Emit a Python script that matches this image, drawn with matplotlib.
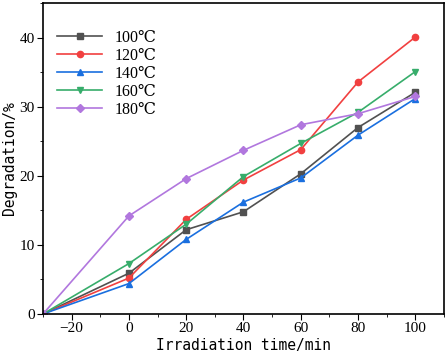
import numpy as np
import matplotlib.pyplot as plt
from matplotlib.ticker import MultipleLocator

plt.rcParams['font.family'] = ['Liberation Serif', 'DejaVu Serif']

# 数据
time = [-30, 0, 20, 40, 60, 80, 100]
d100 = [0, 5.9, 12.2, 14.8, 20.3, 27.0, 32.1]
d120 = [0, 5.2, 13.7, 19.4, 23.8, 33.6, 40.1]
d140 = [0, 4.4, 10.8, 16.2, 19.7, 25.9, 31.2]
d160 = [0, 7.3, 13.0, 19.9, 24.7, 29.2, 35.1]
d180 = [0, 14.2, 19.6, 23.7, 27.4, 29.0, 31.5]
labels = ['100℃', '120℃', '140℃', '160℃', '180℃']

colors = ['#515151', '#F14040', '#1A6FDF', '#37AD6B', '#B177DE']
markers = ['s', 'o', '^', 'v', 'D']
sizes = [4, 4.5, 5, 5, 4]

fig = plt.figure(figsize=(4.48, 3.58), dpi=100)
ax = fig.add_axes([0.096, 0.123, 0.895, 0.868])

for d, lab, c, m, s in zip([d100, d120, d140, d160, d180], labels, colors, markers, sizes):
    ax.plot(time, d, color=c, marker=m, markersize=s, linewidth=1.2, label=lab)

ax.set_xlim(-30, 110)
ax.set_ylim(0, 45)
ax.set_xticks([-20, 0, 20, 40, 60, 80, 100])
ax.xaxis.set_minor_locator(MultipleLocator(10))
ax.yaxis.set_major_locator(MultipleLocator(10))
ax.yaxis.set_minor_locator(MultipleLocator(5))
ax.tick_params(which='both', direction='out', labelsize=11, pad=2)
ax.tick_params(which='major', length=4)
ax.tick_params(which='minor', length=2.5)
for sp in ax.spines.values():
    sp.set_linewidth(1.2)

ax.set_xlabel('Irradiation time/min', fontsize=10.5, family=['DejaVu Sans Mono'], labelpad=2)
ax.set_ylabel('Degradation/%', fontsize=10.5, family=['DejaVu Sans Mono'], labelpad=2)

ax.legend(loc='upper left', bbox_to_anchor=(0.0, 0.96), frameon=False, fontsize=11.5,
          handlelength=2.8, labelspacing=0.12)

fig.savefig('out.png', dpi=100)
